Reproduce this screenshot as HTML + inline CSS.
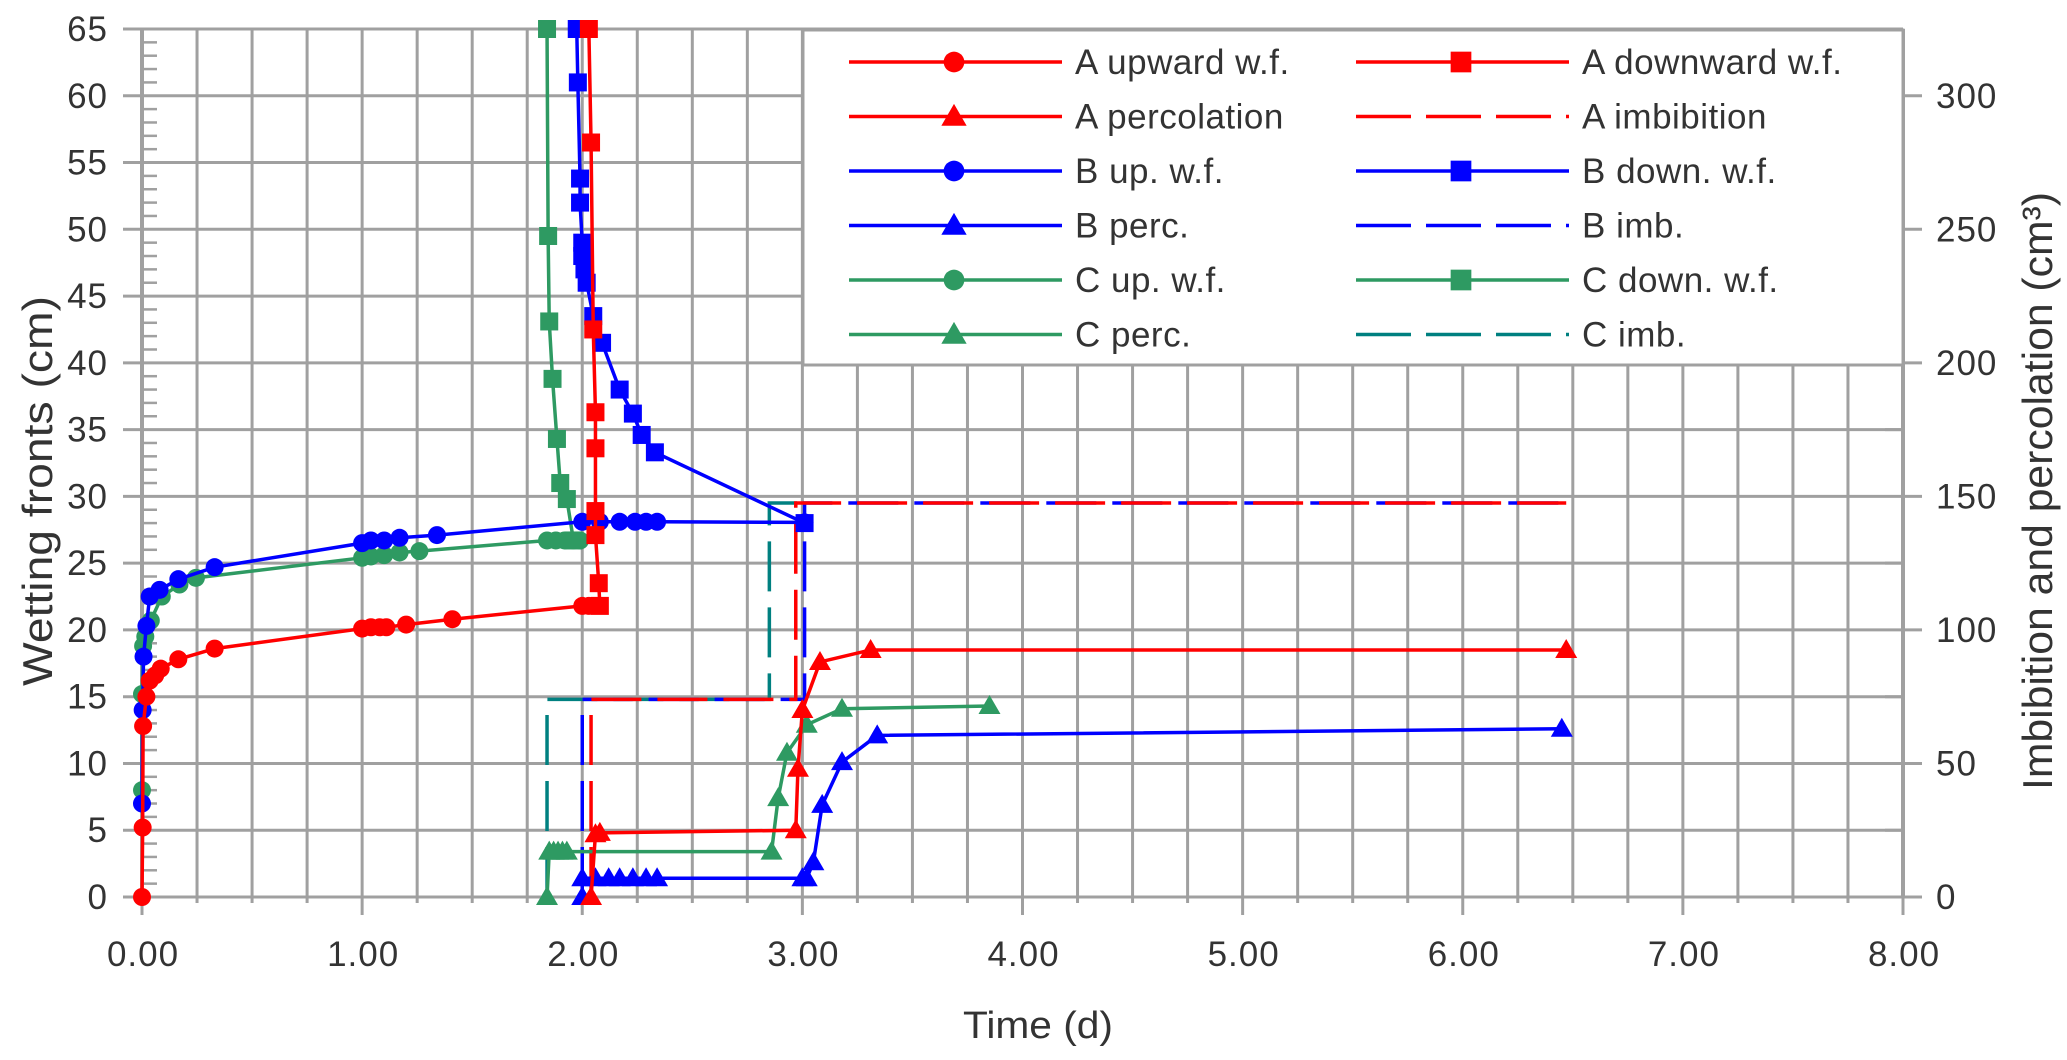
<!DOCTYPE html>
<html><head><meta charset="utf-8"><style>
html,body{margin:0;padding:0;background:#fff;}
svg{display:block;font-family:"Liberation Sans",sans-serif;}
</style></head><body>
<svg id="chart" width="2067" height="1060" viewBox="0 0 2067 1060" xmlns="http://www.w3.org/2000/svg">
<g id="grid"></g>
<g id="axes"></g>
<g id="series"></g>
<g id="legend"></g>
<text x="0" y="0" transform="translate(52,491) rotate(-90)" text-anchor="middle" font-size="42" fill="#333" textLength="390" lengthAdjust="spacingAndGlyphs">Wetting fronts (cm)</text>
<text x="0" y="0" transform="translate(2052,491) rotate(-90)" text-anchor="middle" font-size="42" fill="#333" textLength="598" lengthAdjust="spacingAndGlyphs">Imbibition and percolation (cm³)</text>
<text x="1038" y="1038" text-anchor="middle" font-size="38" fill="#333" textLength="150" lengthAdjust="spacingAndGlyphs">Time (d)</text>
</svg>
<script>
// ---- data ----
const xTicks = ["0.00","1.00","2.00","3.00","4.00","5.00","6.00","7.00","8.00"];
const yTicks = [0,5,10,15,20,25,30,35,40,45,50,55,60,65];
const y2Ticks = [0,50,100,150,200,250,300];

const aUpT = [0,0.003,0.005,0.02,0.035,0.06,0.085,0.165,0.33,1.0,1.04,1.08,1.11,1.2,1.41,2.0,2.03];
const aUpV = [0,5.2,12.8,15,16.2,16.6,17.1,17.8,18.6,20.1,20.2,20.2,20.2,20.4,20.8,21.8,21.8];
const aDownT = [2.03,2.04,2.05,2.06,2.06,2.06,2.06,2.075,2.08];
const aDownV = [65,56.5,42.5,36.3,33.6,28.9,27.1,23.5,21.8];
const aPercT = [2.04,2.06,2.08,2.97,2.98,3.0,3.08,3.31,6.47];
const aPercV = [0,23.5,24,25,48,70,88,92.5,92.5];
const aImbT = [2.04,2.04,2.97,2.97,6.47];
const aImbV = [0,74,74,147.5,147.5];

const bUpT = [0,0.003,0.007,0.02,0.035,0.08,0.165,0.33,1.0,1.04,1.1,1.17,1.34,2.0,2.08,2.17,2.24,2.29,2.34,3.01];
const bUpV = [7,14,18,20.3,22.5,23,23.8,24.7,26.5,26.7,26.7,26.9,27.1,28.1,28.1,28.1,28.1,28.1,28.1,28.05];
const bDownT = [1.975,1.98,1.99,1.99,2.0,2.0,2.01,2.02,2.05,2.09,2.17,2.23,2.27,2.33,3.01];
const bDownV = [65,61,53.8,52,49,48,47,46,43.5,41.5,38,36.2,34.6,33.3,28];
const bPercT = [2.0,2.0,2.06,2.12,2.17,2.23,2.29,2.34,3.0,3.02,3.05,3.09,3.18,3.34,6.45];
const bPercV = [0,7,7,7,7,7,7,7,7,7,13,34.5,50.5,60.5,63];
const bImbT = [2.0,2.0,3.01,3.01,6.47];
const bImbV = [0,74,74,147.5,147.5];

const cUpT = [0,0,0.005,0.015,0.04,0.09,0.17,0.245,1.0,1.04,1.1,1.17,1.26,1.84,1.88,1.92,1.96,1.99];
const cUpV = [8,15.2,18.8,19.5,20.7,22.5,23.4,23.9,25.4,25.5,25.6,25.8,25.9,26.7,26.7,26.7,26.7,26.7];
const cDownT = [1.84,1.845,1.85,1.865,1.885,1.9,1.93,1.96];
const cDownV = [65,49.5,43.1,38.8,34.3,31,29.8,26.7];
const cPercT = [1.84,1.85,1.87,1.89,1.91,1.93,2.86,2.89,2.93,3.02,3.18,3.85];
const cPercV = [0,17,17,17,17,17,17,37,54,64.5,70.5,71.5];
const cImbT = [1.84,1.84,2.85,2.85,3.0];
const cImbV = [0,74,74,147.5,147.5];

// ---- axes ----
const X0=142, X1=1903, Y0=897, Y1=29;
const X = t => X0 + t*(X1-X0)/8;
const YL = v => Y0 - v*(Y0-Y1)/65;
const YR = v => YL(v/5);
const NS="http://www.w3.org/2000/svg";
function mk(tag, attrs, parent){const e=document.createElementNS(NS,tag);for(const k in attrs)e.setAttribute(k,attrs[k]);parent.appendChild(e);return e;}
const grid=document.getElementById('grid'), axes=document.getElementById('axes'), series=document.getElementById('series'), legend=document.getElementById('legend');
const GC="#a0a0a0";
for(let i=0;i<=32;i++){const x=X(i*0.25);
  const l=mk('line',{x1:x,x2:x,y1:Y1,y2:Y0+(i%4==0?18:6),stroke:GC,'stroke-width':3},grid);
  }
yTicks.forEach(v=>{const y=YL(v);
  const l=mk('line',{x1:X0-19,x2:X1,y1:y,y2:y,stroke:GC,'stroke-width':3},grid);
  
  const t=mk('text',{x:108,y:y+12,'text-anchor':'end','font-size':35,'letter-spacing':1,fill:'#333'},axes);t.textContent=v;
  });
for(let v=0;v<=65;v++){if(v%5==0)continue;const y=YL(v);
  const l=mk('line',{x1:X0,x2:X0+15,y1:y,y2:y,stroke:GC,'stroke-width':2.5},axes);
  }
mk('line',{x1:X0,x2:X0,y1:Y1,y2:Y0,stroke:GC,'stroke-width':4},axes);
mk('line',{x1:X1,x2:X1,y1:Y1,y2:Y0,stroke:GC,'stroke-width':4},axes);
for(let v=0;v<=325;v+=25){const y=YR(v);
  const l=mk('line',{x1:v%50==0?X1:X1-18,x2:v%50==0?X1+19:X1,y1:y,y2:y,stroke:GC,'stroke-width':3},axes);
  }
y2Ticks.forEach(v=>{const t=mk('text',{x:1936,y:YR(v)+12,'font-size':35,'letter-spacing':1,fill:'#333'},axes);t.textContent=v;
  });
xTicks.forEach((s,i)=>{const t=mk('text',{x:X(i)+1,y:966,'text-anchor':'middle','font-size':35,'letter-spacing':1,fill:'#333'},axes);t.textContent=s;
  });

// ---- markers ----
function marker(type,x,y,color,g,s){s=s||1;
  if(type=='circle')return mk('circle',{cx:x,cy:y,r:9*s,fill:color},g);
  if(type=='square')return mk('rect',{x:x-9*s,y:y-9*s,width:18*s,height:18*s,fill:color},g);
  if(type=='tri')return mk('polygon',{points:`${x},${y-11*s} ${x-11*s},${y+8*s} ${x+11*s},${y+8*s}`,fill:color},g);}
function drawSeries(name,T,V,yf,color,mtype,dash){
  const g=mk('g',{},series);
  const pts=T.map((t,i)=>X(t)+','+yf(V[i])).join(' ');
  const p=mk('polyline',{points:pts,fill:'none',stroke:color,'stroke-width':3.5},g);
  if(dash)p.setAttribute('stroke-dasharray','50 16');
  
  if(mtype)T.forEach((t,i)=>{const m=marker(mtype,X(t),yf(V[i]),color,g);
    });}
const R="#ff0000",B="#0000ff",G="#2e9a62",TL="#008080";
drawSeries('c-imbibition',cImbT,cImbV,YR,TL,null,true);
drawSeries('b-imbibition',bImbT,bImbV,YR,B,null,true);
drawSeries('a-imbibition',aImbT,aImbV,YR,R,null,true);
drawSeries('c-upward-wf',cUpT,cUpV,YL,G,'circle');
drawSeries('c-downward-wf',cDownT,cDownV,YL,G,'square');
drawSeries('c-percolation',cPercT,cPercV,YR,G,'tri');
drawSeries('b-upward-wf',bUpT,bUpV,YL,B,'circle');
drawSeries('b-downward-wf',bDownT,bDownV,YL,B,'square');
drawSeries('b-percolation',bPercT,bPercV,YR,B,'tri');
drawSeries('a-upward-wf',aUpT,aUpV,YL,R,'circle');
drawSeries('a-downward-wf',aDownT,aDownV,YL,R,'square');
drawSeries('a-percolation',aPercT,aPercV,YR,R,'tri');

// ---- legend ----
mk('rect',{x:803,y:30,width:1100,height:335,fill:'#fff',stroke:GC,'stroke-width':3},legend);
const legItems=[
 ['A upward w.f.',R,'circle',0],['A downward w.f.',R,'square',0],
 ['A percolation',R,'tri',0],['A imbibition',R,null,1],
 ['B up. w.f.',B,'circle',0],['B down. w.f.',B,'square',0],
 ['B perc.',B,'tri',0],['B imb.',B,null,1],
 ['C up. w.f.',G,'circle',0],['C down. w.f.',G,'square',0],
 ['C perc.',G,'tri',0],['C imb.',TL,null,1]];
legItems.forEach((it,i)=>{const col=i%2,row=Math.floor(i/2);
  const lx=col?1356:849, y=62+row*54.5;
  const g=mk('g',{},legend);
  const l=mk('line',{x1:lx,x2:lx+213,y1:y,y2:y,stroke:it[1],'stroke-width':3.5},g);
  if(it[3])l.setAttribute('stroke-dasharray','55 15');
  if(it[2])marker(it[2],lx+105,y,it[1],g,1.15);
  const t=mk('text',{x:lx+226,y:y+12,'font-size':35,'letter-spacing':0.5,fill:'#333'},g);t.textContent=it[0];});
</script>
</body></html>
